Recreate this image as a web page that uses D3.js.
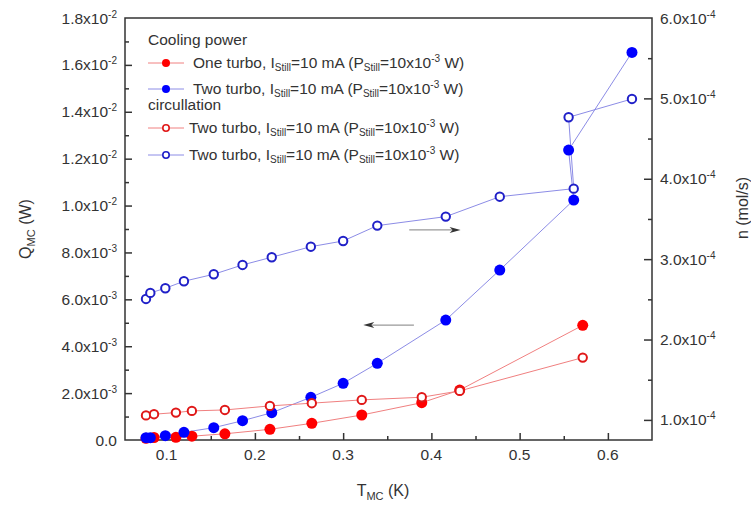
<!DOCTYPE html>
<html>
<head>
<meta charset="utf-8">
<script src="https://cdn.jsdelivr.net/npm/d3@7"></script>
<style>
  body { margin: 0; background: #fff; }
  text { font-family: "Liberation Sans", Arial, sans-serif; fill: #333; }
</style>
</head>
<body>
<div id="chart"></div>
<script>
// temperatures (K)
var tBlue = [0.0766, 0.0815, 0.0985, 0.1196, 0.1534, 0.186, 0.2191, 0.2634, 0.300, 0.3387, 0.4163, 0.4775, 0.5613, 0.5555, 0.6273];
var tRed  = [0.0766, 0.0857, 0.1105, 0.1286, 0.166, 0.217, 0.2645, 0.3211, 0.3891, 0.4321, 0.5715];

// cooling power Q (W), left axis
var qOneTurbo = [0.00007, 0.000107, 0.000115, 0.000162, 0.000264, 0.000456, 0.000712, 0.001066, 0.001591, 0.00213, 0.004891];
var qTwoTurbo = [0.000098, 0.0001, 0.000183, 0.000328, 0.000525, 0.000823, 0.001164, 0.001821, 0.002418, 0.003271, 0.005117, 0.00725, 0.010235, 0.012367, 0.016533];

// circulation n (mol/s), right axis
var nRed  = [1.056e-4, 1.071e-4, 1.091e-4, 1.112e-4, 1.124e-4, 1.174e-4, 1.208e-4, 1.249e-4, 1.282e-4, 1.361e-4, 1.775e-4];
var nBlue = [2.505e-4, 2.58e-4, 2.638e-4, 2.725e-4, 2.812e-4, 2.928e-4, 3.024e-4, 3.155e-4, 3.226e-4, 3.417e-4, 3.529e-4, 3.777e-4, 3.877e-4, 4.765e-4, 4.993e-4];

var xTicks = [0.1, 0.2, 0.3, 0.4, 0.5, 0.6];
var xMinor = [0.15, 0.25, 0.35, 0.45, 0.55];
var qTicks = [0, 0.002, 0.004, 0.006, 0.008, 0.010, 0.012, 0.014, 0.016, 0.018];
var qMinor = [0.001, 0.003, 0.005, 0.007, 0.009, 0.011, 0.013, 0.015, 0.017];
var nTicks = [1e-4, 2e-4, 3e-4, 4e-4, 5e-4, 6e-4];
var nMinor = [1.5e-4, 2.5e-4, 3.5e-4, 4.5e-4, 5.5e-4];

var W = 751, H = 507;
var L = 125, R = 652, T = 18, B = 440;

var svg = d3.select("#chart").append("svg")
    .attr("width", W).attr("height", H);

var x = d3.scaleLinear().domain([0.0528, 0.65]).range([L, R]);
var yL = d3.scaleLinear().domain([0, 0.018]).range([B, T]);
var yR = d3.scaleLinear().domain([0.75e-4, 6e-4]).range([B, T]);

// ticks (inward)
function ticks(axis, tr) {
  var g = svg.append("g").attr("transform", tr).call(axis);
  g.select(".domain").remove();
  g.selectAll("line").attr("stroke", "#333").attr("stroke-width", 1.5);
  g.selectAll("text").remove();
}
ticks(d3.axisBottom(x).tickValues(xTicks).tickSize(-7), "translate(0," + B + ")");
ticks(d3.axisBottom(x).tickValues(xMinor).tickSize(-4), "translate(0," + B + ")");
ticks(d3.axisLeft(yL).tickValues(qTicks.slice(1, -1)).tickSize(-7), "translate(" + L + ",0)");
ticks(d3.axisLeft(yL).tickValues(qMinor).tickSize(-4), "translate(" + L + ",0)");
ticks(d3.axisRight(yR).tickValues(nTicks.slice(0, -1)).tickSize(-8), "translate(" + R + ",0)");
ticks(d3.axisRight(yR).tickValues(nMinor).tickSize(-4), "translate(" + R + ",0)");

svg.append("rect")
    .attr("x", L).attr("y", T).attr("width", R - L).attr("height", B - T)
    .attr("fill", "none").attr("stroke", "#333").attr("stroke-width", 1.5);

// scientific labels
function sci(v) {
  if (v === 0) return ["0.0", null];
  var e = Math.floor(Math.log10(v) + 1e-9);
  return [(v / Math.pow(10, e)).toFixed(1) + "x10", String(e)];
}
function sciLabel(sel) {
  sel.each(function(d) {
    var p = sci(d), t = d3.select(this);
    t.append("tspan").text(p[0]);
    if (p[1]) t.append("tspan").attr("dy", -6).attr("font-size", 10).text(p[1]);
  });
}

svg.append("g").selectAll("text").data(qTicks).enter().append("text")
    .attr("x", 117).attr("y", d => yL(d) + 5.5)
    .attr("text-anchor", "end").attr("font-size", 15.5)
    .call(sciLabel);

svg.append("g").selectAll("text").data(nTicks).enter().append("text")
    .attr("x", 660).attr("y", d => yR(d) + 5.5)
    .attr("font-size", 15.5)
    .call(sciLabel);

svg.append("g").selectAll("text").data(xTicks).enter().append("text")
    .attr("x", d => x(d)).attr("y", 460)
    .attr("text-anchor", "middle").attr("font-size", 15.5)
    .text(d => d3.format(".1f")(d));

// axis titles
var tx = svg.append("text").attr("x", 383).attr("y", 496)
    .attr("text-anchor", "middle").attr("font-size", 16);
tx.append("tspan").text("T");
tx.append("tspan").attr("dy", 4).attr("font-size", 11).text("MC");
tx.append("tspan").attr("dy", -4).text(" (K)");

var ty = svg.append("text").attr("transform", "translate(31,229) rotate(-90)")
    .attr("text-anchor", "middle").attr("font-size", 16);
ty.append("tspan").text("Q");
ty.append("tspan").attr("dy", 4).attr("font-size", 11).text("MC");
ty.append("tspan").attr("dy", -4).text(" (W)");

svg.append("text").attr("transform", "translate(748,208) rotate(-90)")
    .attr("text-anchor", "middle").attr("font-size", 16)
    .text("n (mol/s)");

// series
var series = [
  {t: tRed,  v: qOneTurbo, y: yL, c: "#ff0000", line: "#f08080", open: false},
  {t: tBlue, v: qTwoTurbo, y: yL, c: "#0000ff", line: "#8c8ce6", open: false},
  {t: tRed,  v: nRed,      y: yR, c: "#e01818", line: "#f08080", open: true},
  {t: tBlue, v: nBlue,     y: yR, c: "#2020c8", line: "#8c8ce6", open: true}
];

series.forEach(function(s) {
  var pts = s.t.map((t, i) => [t, s.v[i]]);
  var line = d3.line().x(d => x(d[0])).y(d => s.y(d[1]));
  svg.append("path").datum(pts)
      .attr("d", line).attr("fill", "none")
      .attr("stroke", s.line).attr("stroke-width", 1);
});

series.forEach(function(s) {
  var pts = s.t.map((t, i) => [t, s.v[i]]);
  svg.append("g").selectAll("circle").data(pts).enter().append("circle")
      .attr("cx", d => x(d[0])).attr("cy", d => s.y(d[1]))
      .attr("r", s.open ? 4.2 : 5.5)
      .attr("fill", s.open ? "#fff" : s.c)
      .attr("stroke", s.open ? s.c : "none")
      .attr("stroke-width", 2);
});

// arrows
function arrow(x1, x2, yy) {
  var dir = x2 > x1 ? 1 : -1;
  svg.append("line").attr("x1", x1).attr("x2", x2 - dir * 6)
      .attr("y1", yy).attr("y2", yy).attr("stroke", "#999").attr("stroke-width", 1.2);
  svg.append("path")
      .attr("d", "M" + x2 + "," + yy + "L" + (x2 - dir * 11) + "," + (yy - 3) +
                 "L" + (x2 - dir * 8) + "," + yy + "L" + (x2 - dir * 11) + "," + (yy + 3) + "Z")
      .attr("fill", "#333");
}
arrow(x(0.3749), x(0.4331), yR(3.363e-4));
arrow(x(0.3802), x(0.3228), yL(0.0049));

// legend
var lg = svg.append("g").attr("font-size", 15.5);
lg.append("text").attr("x", 148).attr("y", 45).text("Cooling power");
lg.append("text").attr("x", 148).attr("y", 110).text("circullation");

var legendRows = [
  {y: 63,  s: series[0], tx: 193},
  {y: 89,  s: series[1], tx: 193},
  {y: 128, s: series[2], tx: 189},
  {y: 155, s: series[3], tx: 189}
];
legendRows.forEach(function(r) {
  lg.append("line").attr("x1", 148).attr("x2", 184).attr("y1", r.y).attr("y2", r.y)
      .attr("stroke", r.s.line).attr("stroke-width", 1);
  lg.append("circle").attr("cx", 166).attr("cy", r.y)
      .attr("r", r.s.open ? 3.2 : 4)
      .attr("fill", r.s.open ? "#fff" : r.s.c)
      .attr("stroke", r.s.open ? r.s.c : "none").attr("stroke-width", 1.6);
  var t = lg.append("text").attr("x", r.tx).attr("y", r.y + 5);
  t.append("tspan").text(r.s === series[0] ? "One turbo, I" : "Two turbo, I");
  t.append("tspan").attr("dy", 3).attr("font-size", 10).text("Still");
  t.append("tspan").attr("dy", -3).text("=10 mA (P");
  t.append("tspan").attr("dy", 3).attr("font-size", 10).text("Still");
  t.append("tspan").attr("dy", -3).text("=10x10");
  t.append("tspan").attr("dy", -6).attr("font-size", 10).text("-3");
  t.append("tspan").attr("dy", 6).text(" W)");
});
</script>
</body>
</html>
